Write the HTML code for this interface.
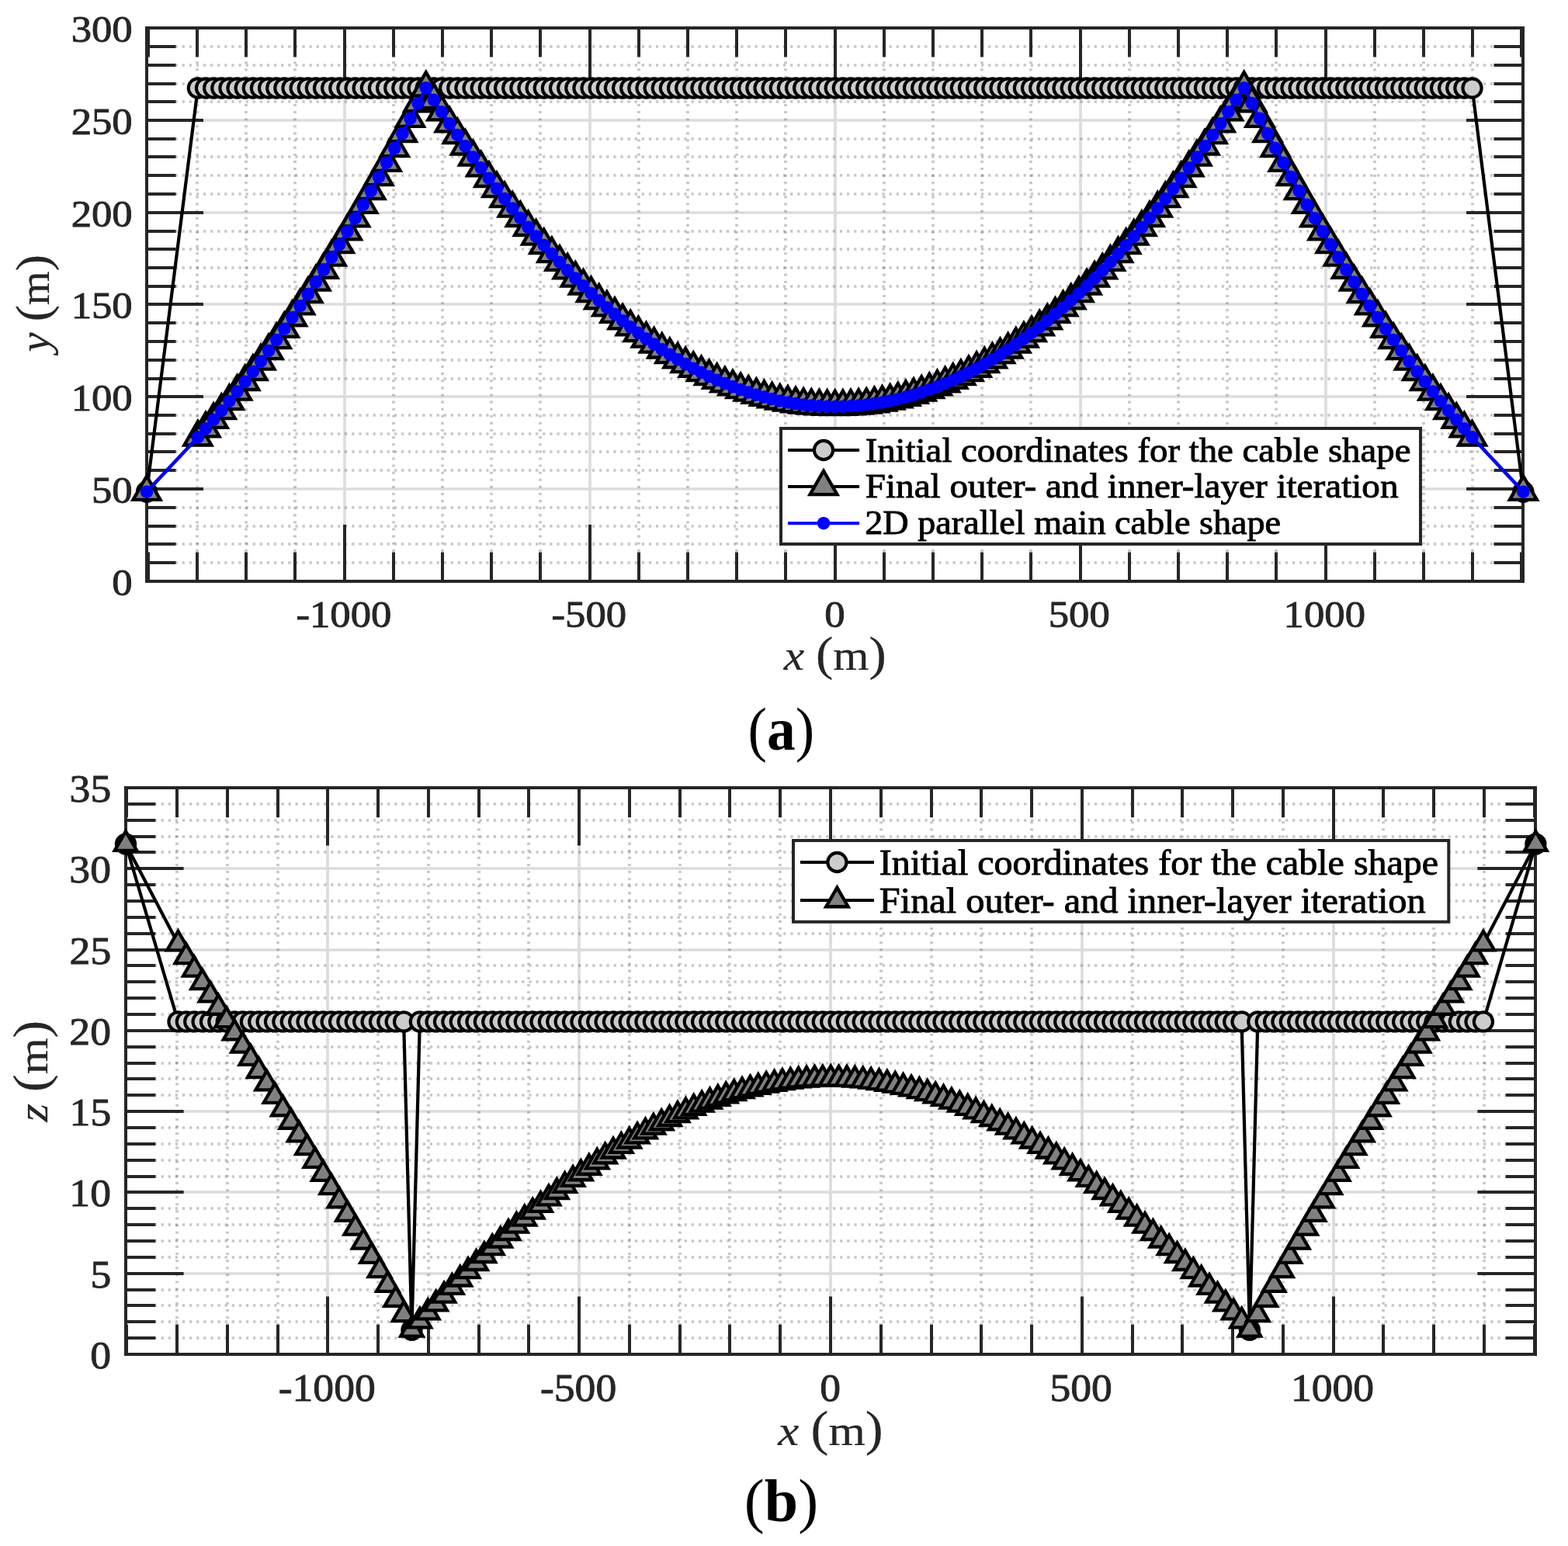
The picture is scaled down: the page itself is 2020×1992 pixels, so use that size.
<!DOCTYPE html>
<html lang="en"><head><meta charset="utf-8"><title>Cable shape</title>
<style>html,body{margin:0;padding:0;background:#fff}body{width:2020px;height:1992px;overflow:hidden}svg{display:block}text{font-family:'Liberation Serif','DejaVu Serif',serif}</style></head><body>
<svg xmlns="http://www.w3.org/2000/svg" width="2020" height="1992" viewBox="0 0 2020 1992">
<rect width="2020" height="1992" fill="#fff"/>
<defs>
<circle id="c" r="12.1" fill="#ccc" stroke="#000" stroke-width="4.1"/>
<circle id="d" r="8.3" fill="#00f"/>
<polygon id="ta" points="0,-20.21 17.5,10.1 -17.5,10.1" fill="#808080" stroke="#000" stroke-width="4.3"/>
<polygon id="tb" points="0,-16.45 14.25,8.23 -14.25,8.23" fill="#808080" stroke="#000" stroke-width="4.3"/>
<clipPath id="ca"><rect x="187" y="34" width="1777" height="717"/></clipPath>
<clipPath id="cb"><rect x="160" y="1013" width="1820" height="734"/></clipPath>
</defs>
<g id="axes-a">
<path d="M254 33.7V749M317 33.7V749M380 33.7V749M507 33.7V749M570 33.7V749M633 33.7V749M696 33.7V749M823 33.7V749M886 33.7V749M949 33.7V749M1012 33.7V749M1139 33.7V749M1202 33.7V749M1265 33.7V749M1328 33.7V749M1455 33.7V749M1518 33.7V749M1581 33.7V749M1644 33.7V749M1771 33.7V749M1834 33.7V749M1897 33.7V749" stroke="#262626" stroke-width="3.7" stroke-opacity="0.26" stroke-dasharray="3.1 6.01" fill="none"/>
<path d="M189 725H1962M189 701H1962M189 678H1962M189 654H1962M189 606H1962M189 582H1962M189 559H1962M189 535H1962M189 488H1962M189 464H1962M189 440H1962M189 416H1962M189 369H1962M189 345H1962M189 321H1962M189 298H1962M189 250H1962M189 226H1962M189 202H1962M189 179H1962M189 131H1962M189 108H1962M189 84H1962M189 60H1962" stroke="#262626" stroke-width="3.7" stroke-opacity="0.26" stroke-dasharray="3.3 5.81" fill="none"/>
<path d="M444 749V36M760 749V36M1076 749V36M1392 749V36M1708 749V36M189 630H1962M189 511H1962M189 392H1962M189 274H1962M189 155H1962" stroke="#262626" stroke-width="3.7" stroke-opacity="0.16" fill="none"/>
<path d="M191 749v-37.5M191 36v37.5M254 749v-37.5M254 36v37.5M317 749v-37.5M317 36v37.5M380 749v-37.5M380 36v37.5M507 749v-37.5M507 36v37.5M570 749v-37.5M570 36v37.5M633 749v-37.5M633 36v37.5M696 749v-37.5M696 36v37.5M823 749v-37.5M823 36v37.5M886 749v-37.5M886 36v37.5M949 749v-37.5M949 36v37.5M1012 749v-37.5M1012 36v37.5M1139 749v-37.5M1139 36v37.5M1202 749v-37.5M1202 36v37.5M1265 749v-37.5M1265 36v37.5M1328 749v-37.5M1328 36v37.5M1455 749v-37.5M1455 36v37.5M1518 749v-37.5M1518 36v37.5M1581 749v-37.5M1581 36v37.5M1644 749v-37.5M1644 36v37.5M1771 749v-37.5M1771 36v37.5M1834 749v-37.5M1834 36v37.5M1897 749v-37.5M1897 36v37.5M1960 749v-37.5M1960 36v37.5M444 749v-73M444 36v73M760 749v-73M760 36v73M1076 749v-73M1076 36v73M1392 749v-73M1392 36v73M1708 749v-73M1708 36v73M189 725h37.5M1962 725h-37.5M189 701h37.5M1962 701h-37.5M189 678h37.5M1962 678h-37.5M189 654h37.5M1962 654h-37.5M189 606h37.5M1962 606h-37.5M189 582h37.5M1962 582h-37.5M189 559h37.5M1962 559h-37.5M189 535h37.5M1962 535h-37.5M189 488h37.5M1962 488h-37.5M189 464h37.5M1962 464h-37.5M189 440h37.5M1962 440h-37.5M189 416h37.5M1962 416h-37.5M189 369h37.5M1962 369h-37.5M189 345h37.5M1962 345h-37.5M189 321h37.5M1962 321h-37.5M189 298h37.5M1962 298h-37.5M189 250h37.5M1962 250h-37.5M189 226h37.5M1962 226h-37.5M189 202h37.5M1962 202h-37.5M189 179h37.5M1962 179h-37.5M189 131h37.5M1962 131h-37.5M189 108h37.5M1962 108h-37.5M189 84h37.5M1962 84h-37.5M189 60h37.5M1962 60h-37.5M189 749h73M1962 749h-73M189 630h73M1962 630h-73M189 511h73M1962 511h-73M189 392h73M1962 392h-73M189 274h73M1962 274h-73M189 155h73M1962 155h-73M189 36h73M1962 36h-73" stroke="#262626" stroke-width="4" fill="none"/>
<rect x="189" y="36" width="1773" height="713" fill="none" stroke="#262626" stroke-width="4"/>
<path d="M189 633.73L254.87 113.48L265 113.48L275.14 113.48L285.27 113.48L295.4 113.48L305.54 113.48L315.67 113.48L325.81 113.48L335.94 113.48L346.07 113.48L356.21 113.48L366.34 113.48L376.47 113.48L386.61 113.48L396.74 113.48L406.87 113.48L417.01 113.48L427.14 113.48L437.28 113.48L447.41 113.48L457.54 113.48L467.68 113.48L477.81 113.48L487.94 113.48L498.08 113.48L508.21 113.48L518.35 113.48L528.48 113.48L538.61 113.48L548.75 113.48L558.88 113.48L569.01 113.48L579.15 113.48L589.28 113.48L599.42 113.48L609.55 113.48L619.68 113.48L629.82 113.48L639.95 113.48L650.08 113.48L660.22 113.48L670.35 113.48L680.49 113.48L690.62 113.48L700.75 113.48L710.89 113.48L721.02 113.48L731.15 113.48L741.29 113.48L751.42 113.48L761.55 113.48L771.69 113.48L781.82 113.48L791.96 113.48L802.09 113.48L812.22 113.48L822.36 113.48L832.49 113.48L842.62 113.48L852.76 113.48L862.89 113.48L873.03 113.48L883.16 113.48L893.29 113.48L903.43 113.48L913.56 113.48L923.69 113.48L933.83 113.48L943.96 113.48L954.1 113.48L964.23 113.48L974.36 113.48L984.5 113.48L994.63 113.48L1004.76 113.48L1014.9 113.48L1025.03 113.48L1035.17 113.48L1045.3 113.48L1055.43 113.48L1065.57 113.48L1075.7 113.48L1085.83 113.48L1095.97 113.48L1106.1 113.48L1116.23 113.48L1126.37 113.48L1136.5 113.48L1146.64 113.48L1156.77 113.48L1166.9 113.48L1177.04 113.48L1187.17 113.48L1197.3 113.48L1207.44 113.48L1217.57 113.48L1227.71 113.48L1237.84 113.48L1247.97 113.48L1258.11 113.48L1268.24 113.48L1278.37 113.48L1288.51 113.48L1298.64 113.48L1308.78 113.48L1318.91 113.48L1329.04 113.48L1339.18 113.48L1349.31 113.48L1359.44 113.48L1369.58 113.48L1379.71 113.48L1389.85 113.48L1399.98 113.48L1410.11 113.48L1420.25 113.48L1430.38 113.48L1440.51 113.48L1450.65 113.48L1460.78 113.48L1470.91 113.48L1481.05 113.48L1491.18 113.48L1501.32 113.48L1511.45 113.48L1521.58 113.48L1531.72 113.48L1541.85 113.48L1551.98 113.48L1562.12 113.48L1572.25 113.48L1582.39 113.48L1592.52 113.48L1602.65 113.48L1612.79 113.48L1622.92 113.48L1633.05 113.48L1643.19 113.48L1653.32 113.48L1663.46 113.48L1673.59 113.48L1683.72 113.48L1693.86 113.48L1703.99 113.48L1714.12 113.48L1724.26 113.48L1734.39 113.48L1744.53 113.48L1754.66 113.48L1764.79 113.48L1774.93 113.48L1785.06 113.48L1795.19 113.48L1805.33 113.48L1815.46 113.48L1825.59 113.48L1835.73 113.48L1845.86 113.48L1856 113.48L1866.13 113.48L1876.26 113.48L1886.4 113.48L1896.53 113.48L1962.4 633.73" fill="none" stroke="#000" stroke-width="4.2" stroke-linejoin="round" clip-path="url(#ca)"/>
<g><use href="#c" x="189" y="633.73"/><use href="#c" x="254.87" y="113.48"/><use href="#c" x="265" y="113.48"/><use href="#c" x="275.14" y="113.48"/><use href="#c" x="285.27" y="113.48"/><use href="#c" x="295.4" y="113.48"/><use href="#c" x="305.54" y="113.48"/><use href="#c" x="315.67" y="113.48"/><use href="#c" x="325.81" y="113.48"/><use href="#c" x="335.94" y="113.48"/><use href="#c" x="346.07" y="113.48"/><use href="#c" x="356.21" y="113.48"/><use href="#c" x="366.34" y="113.48"/><use href="#c" x="376.47" y="113.48"/><use href="#c" x="386.61" y="113.48"/><use href="#c" x="396.74" y="113.48"/><use href="#c" x="406.87" y="113.48"/><use href="#c" x="417.01" y="113.48"/><use href="#c" x="427.14" y="113.48"/><use href="#c" x="437.28" y="113.48"/><use href="#c" x="447.41" y="113.48"/><use href="#c" x="457.54" y="113.48"/><use href="#c" x="467.68" y="113.48"/><use href="#c" x="477.81" y="113.48"/><use href="#c" x="487.94" y="113.48"/><use href="#c" x="498.08" y="113.48"/><use href="#c" x="508.21" y="113.48"/><use href="#c" x="518.35" y="113.48"/><use href="#c" x="528.48" y="113.48"/><use href="#c" x="538.61" y="113.48"/><use href="#c" x="548.75" y="113.48"/><use href="#c" x="558.88" y="113.48"/><use href="#c" x="569.01" y="113.48"/><use href="#c" x="579.15" y="113.48"/><use href="#c" x="589.28" y="113.48"/><use href="#c" x="599.42" y="113.48"/><use href="#c" x="609.55" y="113.48"/><use href="#c" x="619.68" y="113.48"/><use href="#c" x="629.82" y="113.48"/><use href="#c" x="639.95" y="113.48"/><use href="#c" x="650.08" y="113.48"/><use href="#c" x="660.22" y="113.48"/><use href="#c" x="670.35" y="113.48"/><use href="#c" x="680.49" y="113.48"/><use href="#c" x="690.62" y="113.48"/><use href="#c" x="700.75" y="113.48"/><use href="#c" x="710.89" y="113.48"/><use href="#c" x="721.02" y="113.48"/><use href="#c" x="731.15" y="113.48"/><use href="#c" x="741.29" y="113.48"/><use href="#c" x="751.42" y="113.48"/><use href="#c" x="761.55" y="113.48"/><use href="#c" x="771.69" y="113.48"/><use href="#c" x="781.82" y="113.48"/><use href="#c" x="791.96" y="113.48"/><use href="#c" x="802.09" y="113.48"/><use href="#c" x="812.22" y="113.48"/><use href="#c" x="822.36" y="113.48"/><use href="#c" x="832.49" y="113.48"/><use href="#c" x="842.62" y="113.48"/><use href="#c" x="852.76" y="113.48"/><use href="#c" x="862.89" y="113.48"/><use href="#c" x="873.03" y="113.48"/><use href="#c" x="883.16" y="113.48"/><use href="#c" x="893.29" y="113.48"/><use href="#c" x="903.43" y="113.48"/><use href="#c" x="913.56" y="113.48"/><use href="#c" x="923.69" y="113.48"/><use href="#c" x="933.83" y="113.48"/><use href="#c" x="943.96" y="113.48"/><use href="#c" x="954.1" y="113.48"/><use href="#c" x="964.23" y="113.48"/><use href="#c" x="974.36" y="113.48"/><use href="#c" x="984.5" y="113.48"/><use href="#c" x="994.63" y="113.48"/><use href="#c" x="1004.76" y="113.48"/><use href="#c" x="1014.9" y="113.48"/><use href="#c" x="1025.03" y="113.48"/><use href="#c" x="1035.17" y="113.48"/><use href="#c" x="1045.3" y="113.48"/><use href="#c" x="1055.43" y="113.48"/><use href="#c" x="1065.57" y="113.48"/><use href="#c" x="1075.7" y="113.48"/><use href="#c" x="1085.83" y="113.48"/><use href="#c" x="1095.97" y="113.48"/><use href="#c" x="1106.1" y="113.48"/><use href="#c" x="1116.23" y="113.48"/><use href="#c" x="1126.37" y="113.48"/><use href="#c" x="1136.5" y="113.48"/><use href="#c" x="1146.64" y="113.48"/><use href="#c" x="1156.77" y="113.48"/><use href="#c" x="1166.9" y="113.48"/><use href="#c" x="1177.04" y="113.48"/><use href="#c" x="1187.17" y="113.48"/><use href="#c" x="1197.3" y="113.48"/><use href="#c" x="1207.44" y="113.48"/><use href="#c" x="1217.57" y="113.48"/><use href="#c" x="1227.71" y="113.48"/><use href="#c" x="1237.84" y="113.48"/><use href="#c" x="1247.97" y="113.48"/><use href="#c" x="1258.11" y="113.48"/><use href="#c" x="1268.24" y="113.48"/><use href="#c" x="1278.37" y="113.48"/><use href="#c" x="1288.51" y="113.48"/><use href="#c" x="1298.64" y="113.48"/><use href="#c" x="1308.78" y="113.48"/><use href="#c" x="1318.91" y="113.48"/><use href="#c" x="1329.04" y="113.48"/><use href="#c" x="1339.18" y="113.48"/><use href="#c" x="1349.31" y="113.48"/><use href="#c" x="1359.44" y="113.48"/><use href="#c" x="1369.58" y="113.48"/><use href="#c" x="1379.71" y="113.48"/><use href="#c" x="1389.85" y="113.48"/><use href="#c" x="1399.98" y="113.48"/><use href="#c" x="1410.11" y="113.48"/><use href="#c" x="1420.25" y="113.48"/><use href="#c" x="1430.38" y="113.48"/><use href="#c" x="1440.51" y="113.48"/><use href="#c" x="1450.65" y="113.48"/><use href="#c" x="1460.78" y="113.48"/><use href="#c" x="1470.91" y="113.48"/><use href="#c" x="1481.05" y="113.48"/><use href="#c" x="1491.18" y="113.48"/><use href="#c" x="1501.32" y="113.48"/><use href="#c" x="1511.45" y="113.48"/><use href="#c" x="1521.58" y="113.48"/><use href="#c" x="1531.72" y="113.48"/><use href="#c" x="1541.85" y="113.48"/><use href="#c" x="1551.98" y="113.48"/><use href="#c" x="1562.12" y="113.48"/><use href="#c" x="1572.25" y="113.48"/><use href="#c" x="1582.39" y="113.48"/><use href="#c" x="1592.52" y="113.48"/><use href="#c" x="1602.65" y="113.48"/><use href="#c" x="1612.79" y="113.48"/><use href="#c" x="1622.92" y="113.48"/><use href="#c" x="1633.05" y="113.48"/><use href="#c" x="1643.19" y="113.48"/><use href="#c" x="1653.32" y="113.48"/><use href="#c" x="1663.46" y="113.48"/><use href="#c" x="1673.59" y="113.48"/><use href="#c" x="1683.72" y="113.48"/><use href="#c" x="1693.86" y="113.48"/><use href="#c" x="1703.99" y="113.48"/><use href="#c" x="1714.12" y="113.48"/><use href="#c" x="1724.26" y="113.48"/><use href="#c" x="1734.39" y="113.48"/><use href="#c" x="1744.53" y="113.48"/><use href="#c" x="1754.66" y="113.48"/><use href="#c" x="1764.79" y="113.48"/><use href="#c" x="1774.93" y="113.48"/><use href="#c" x="1785.06" y="113.48"/><use href="#c" x="1795.19" y="113.48"/><use href="#c" x="1805.33" y="113.48"/><use href="#c" x="1815.46" y="113.48"/><use href="#c" x="1825.59" y="113.48"/><use href="#c" x="1835.73" y="113.48"/><use href="#c" x="1845.86" y="113.48"/><use href="#c" x="1856" y="113.48"/><use href="#c" x="1866.13" y="113.48"/><use href="#c" x="1876.26" y="113.48"/><use href="#c" x="1886.4" y="113.48"/><use href="#c" x="1896.53" y="113.48"/><use href="#c" x="1962.4" y="633.73"/></g>
<path d="M189 633.73L254.87 563.38L265 552.25L275.14 540.81L285.27 529.06L295.4 516.99L305.54 504.61L315.67 491.91L325.81 478.9L335.94 465.57L346.07 451.93L356.21 437.98L366.34 423.71L376.47 409.13L386.61 394.24L396.74 379.03L406.87 363.51L417.01 347.67L427.14 331.52L437.28 315.06L447.41 298.28L457.54 281.19L467.68 263.79L477.81 246.07L487.94 228.03L498.08 209.69L508.21 191.02L518.35 172.05L528.48 152.76L538.61 133.16L548.75 113.24L558.88 128.89L569.01 144.23L579.15 159.26L589.28 173.99L599.42 188.42L609.55 202.55L619.68 216.37L629.82 229.89L639.95 243.1L650.08 256.01L660.22 268.62L670.35 280.92L680.49 292.92L690.62 304.61L700.75 316L710.89 327.09L721.02 337.87L731.15 348.35L741.29 358.53L751.42 368.4L761.55 377.97L771.69 387.24L781.82 396.2L791.96 404.85L802.09 413.21L812.22 421.26L822.36 429L832.49 436.45L842.62 443.58L852.76 450.42L862.89 456.95L873.03 463.18L883.16 469.1L893.29 474.72L903.43 480.04L913.56 485.05L923.69 489.76L933.83 494.16L943.96 498.26L954.1 502.06L964.23 505.55L974.36 508.74L984.5 511.63L994.63 514.21L1004.76 516.49L1014.9 518.46L1025.03 520.13L1035.17 521.5L1045.3 522.56L1055.43 523.32L1065.57 523.78L1075.7 523.93L1085.83 523.78L1095.97 523.32L1106.1 522.56L1116.23 521.5L1126.37 520.13L1136.5 518.46L1146.64 516.49L1156.77 514.21L1166.9 511.63L1177.04 508.74L1187.17 505.55L1197.3 502.06L1207.44 498.26L1217.57 494.16L1227.71 489.76L1237.84 485.05L1247.97 480.04L1258.11 474.72L1268.24 469.1L1278.37 463.18L1288.51 456.95L1298.64 450.42L1308.78 443.58L1318.91 436.45L1329.04 429L1339.18 421.26L1349.31 413.21L1359.44 404.85L1369.58 396.2L1379.71 387.24L1389.85 377.97L1399.98 368.4L1410.11 358.53L1420.25 348.35L1430.38 337.87L1440.51 327.09L1450.65 316L1460.78 304.61L1470.91 292.92L1481.05 280.92L1491.18 268.62L1501.32 256.01L1511.45 243.1L1521.58 229.89L1531.72 216.37L1541.85 202.55L1551.98 188.42L1562.12 173.99L1572.25 159.26L1582.39 144.23L1592.52 128.89L1602.65 113.24L1612.79 133.16L1622.92 152.76L1633.05 172.05L1643.19 191.02L1653.32 209.69L1663.46 228.03L1673.59 246.07L1683.72 263.79L1693.86 281.19L1703.99 298.28L1714.12 315.06L1724.26 331.52L1734.39 347.67L1744.53 363.51L1754.66 379.03L1764.79 394.24L1774.93 409.13L1785.06 423.71L1795.19 437.98L1805.33 451.93L1815.46 465.57L1825.59 478.9L1835.73 491.91L1845.86 504.61L1856 516.99L1866.13 529.06L1876.26 540.81L1886.4 552.25L1896.53 563.38L1962.4 633.73" fill="none" stroke="#000" stroke-width="4.2" stroke-linejoin="round" clip-path="url(#ca)"/>
<g><use href="#ta" x="189" y="633.73"/><use href="#ta" x="254.87" y="563.38"/><use href="#ta" x="265" y="552.25"/><use href="#ta" x="275.14" y="540.81"/><use href="#ta" x="285.27" y="529.06"/><use href="#ta" x="295.4" y="516.99"/><use href="#ta" x="305.54" y="504.61"/><use href="#ta" x="315.67" y="491.91"/><use href="#ta" x="325.81" y="478.9"/><use href="#ta" x="335.94" y="465.57"/><use href="#ta" x="346.07" y="451.93"/><use href="#ta" x="356.21" y="437.98"/><use href="#ta" x="366.34" y="423.71"/><use href="#ta" x="376.47" y="409.13"/><use href="#ta" x="386.61" y="394.24"/><use href="#ta" x="396.74" y="379.03"/><use href="#ta" x="406.87" y="363.51"/><use href="#ta" x="417.01" y="347.67"/><use href="#ta" x="427.14" y="331.52"/><use href="#ta" x="437.28" y="315.06"/><use href="#ta" x="447.41" y="298.28"/><use href="#ta" x="457.54" y="281.19"/><use href="#ta" x="467.68" y="263.79"/><use href="#ta" x="477.81" y="246.07"/><use href="#ta" x="487.94" y="228.03"/><use href="#ta" x="498.08" y="209.69"/><use href="#ta" x="508.21" y="191.02"/><use href="#ta" x="518.35" y="172.05"/><use href="#ta" x="528.48" y="152.76"/><use href="#ta" x="538.61" y="133.16"/><use href="#ta" x="548.75" y="113.24"/><use href="#ta" x="558.88" y="128.89"/><use href="#ta" x="569.01" y="144.23"/><use href="#ta" x="579.15" y="159.26"/><use href="#ta" x="589.28" y="173.99"/><use href="#ta" x="599.42" y="188.42"/><use href="#ta" x="609.55" y="202.55"/><use href="#ta" x="619.68" y="216.37"/><use href="#ta" x="629.82" y="229.89"/><use href="#ta" x="639.95" y="243.1"/><use href="#ta" x="650.08" y="256.01"/><use href="#ta" x="660.22" y="268.62"/><use href="#ta" x="670.35" y="280.92"/><use href="#ta" x="680.49" y="292.92"/><use href="#ta" x="690.62" y="304.61"/><use href="#ta" x="700.75" y="316"/><use href="#ta" x="710.89" y="327.09"/><use href="#ta" x="721.02" y="337.87"/><use href="#ta" x="731.15" y="348.35"/><use href="#ta" x="741.29" y="358.53"/><use href="#ta" x="751.42" y="368.4"/><use href="#ta" x="761.55" y="377.97"/><use href="#ta" x="771.69" y="387.24"/><use href="#ta" x="781.82" y="396.2"/><use href="#ta" x="791.96" y="404.85"/><use href="#ta" x="802.09" y="413.21"/><use href="#ta" x="812.22" y="421.26"/><use href="#ta" x="822.36" y="429"/><use href="#ta" x="832.49" y="436.45"/><use href="#ta" x="842.62" y="443.58"/><use href="#ta" x="852.76" y="450.42"/><use href="#ta" x="862.89" y="456.95"/><use href="#ta" x="873.03" y="463.18"/><use href="#ta" x="883.16" y="469.1"/><use href="#ta" x="893.29" y="474.72"/><use href="#ta" x="903.43" y="480.04"/><use href="#ta" x="913.56" y="485.05"/><use href="#ta" x="923.69" y="489.76"/><use href="#ta" x="933.83" y="494.16"/><use href="#ta" x="943.96" y="498.26"/><use href="#ta" x="954.1" y="502.06"/><use href="#ta" x="964.23" y="505.55"/><use href="#ta" x="974.36" y="508.74"/><use href="#ta" x="984.5" y="511.63"/><use href="#ta" x="994.63" y="514.21"/><use href="#ta" x="1004.76" y="516.49"/><use href="#ta" x="1014.9" y="518.46"/><use href="#ta" x="1025.03" y="520.13"/><use href="#ta" x="1035.17" y="521.5"/><use href="#ta" x="1045.3" y="522.56"/><use href="#ta" x="1055.43" y="523.32"/><use href="#ta" x="1065.57" y="523.78"/><use href="#ta" x="1075.7" y="523.93"/><use href="#ta" x="1085.83" y="523.78"/><use href="#ta" x="1095.97" y="523.32"/><use href="#ta" x="1106.1" y="522.56"/><use href="#ta" x="1116.23" y="521.5"/><use href="#ta" x="1126.37" y="520.13"/><use href="#ta" x="1136.5" y="518.46"/><use href="#ta" x="1146.64" y="516.49"/><use href="#ta" x="1156.77" y="514.21"/><use href="#ta" x="1166.9" y="511.63"/><use href="#ta" x="1177.04" y="508.74"/><use href="#ta" x="1187.17" y="505.55"/><use href="#ta" x="1197.3" y="502.06"/><use href="#ta" x="1207.44" y="498.26"/><use href="#ta" x="1217.57" y="494.16"/><use href="#ta" x="1227.71" y="489.76"/><use href="#ta" x="1237.84" y="485.05"/><use href="#ta" x="1247.97" y="480.04"/><use href="#ta" x="1258.11" y="474.72"/><use href="#ta" x="1268.24" y="469.1"/><use href="#ta" x="1278.37" y="463.18"/><use href="#ta" x="1288.51" y="456.95"/><use href="#ta" x="1298.64" y="450.42"/><use href="#ta" x="1308.78" y="443.58"/><use href="#ta" x="1318.91" y="436.45"/><use href="#ta" x="1329.04" y="429"/><use href="#ta" x="1339.18" y="421.26"/><use href="#ta" x="1349.31" y="413.21"/><use href="#ta" x="1359.44" y="404.85"/><use href="#ta" x="1369.58" y="396.2"/><use href="#ta" x="1379.71" y="387.24"/><use href="#ta" x="1389.85" y="377.97"/><use href="#ta" x="1399.98" y="368.4"/><use href="#ta" x="1410.11" y="358.53"/><use href="#ta" x="1420.25" y="348.35"/><use href="#ta" x="1430.38" y="337.87"/><use href="#ta" x="1440.51" y="327.09"/><use href="#ta" x="1450.65" y="316"/><use href="#ta" x="1460.78" y="304.61"/><use href="#ta" x="1470.91" y="292.92"/><use href="#ta" x="1481.05" y="280.92"/><use href="#ta" x="1491.18" y="268.62"/><use href="#ta" x="1501.32" y="256.01"/><use href="#ta" x="1511.45" y="243.1"/><use href="#ta" x="1521.58" y="229.89"/><use href="#ta" x="1531.72" y="216.37"/><use href="#ta" x="1541.85" y="202.55"/><use href="#ta" x="1551.98" y="188.42"/><use href="#ta" x="1562.12" y="173.99"/><use href="#ta" x="1572.25" y="159.26"/><use href="#ta" x="1582.39" y="144.23"/><use href="#ta" x="1592.52" y="128.89"/><use href="#ta" x="1602.65" y="113.24"/><use href="#ta" x="1612.79" y="133.16"/><use href="#ta" x="1622.92" y="152.76"/><use href="#ta" x="1633.05" y="172.05"/><use href="#ta" x="1643.19" y="191.02"/><use href="#ta" x="1653.32" y="209.69"/><use href="#ta" x="1663.46" y="228.03"/><use href="#ta" x="1673.59" y="246.07"/><use href="#ta" x="1683.72" y="263.79"/><use href="#ta" x="1693.86" y="281.19"/><use href="#ta" x="1703.99" y="298.28"/><use href="#ta" x="1714.12" y="315.06"/><use href="#ta" x="1724.26" y="331.52"/><use href="#ta" x="1734.39" y="347.67"/><use href="#ta" x="1744.53" y="363.51"/><use href="#ta" x="1754.66" y="379.03"/><use href="#ta" x="1764.79" y="394.24"/><use href="#ta" x="1774.93" y="409.13"/><use href="#ta" x="1785.06" y="423.71"/><use href="#ta" x="1795.19" y="437.98"/><use href="#ta" x="1805.33" y="451.93"/><use href="#ta" x="1815.46" y="465.57"/><use href="#ta" x="1825.59" y="478.9"/><use href="#ta" x="1835.73" y="491.91"/><use href="#ta" x="1845.86" y="504.61"/><use href="#ta" x="1856" y="516.99"/><use href="#ta" x="1866.13" y="529.06"/><use href="#ta" x="1876.26" y="540.81"/><use href="#ta" x="1886.4" y="552.25"/><use href="#ta" x="1896.53" y="563.38"/><use href="#ta" x="1962.4" y="633.73"/></g>
<path d="M189 633.73L254.87 563.38L265 552.25L275.14 540.81L285.27 529.06L295.4 516.99L305.54 504.61L315.67 491.91L325.81 478.9L335.94 465.57L346.07 451.93L356.21 437.98L366.34 423.71L376.47 409.13L386.61 394.24L396.74 379.03L406.87 363.51L417.01 347.67L427.14 331.52L437.28 315.06L447.41 298.28L457.54 281.19L467.68 263.79L477.81 246.07L487.94 228.03L498.08 209.69L508.21 191.02L518.35 172.05L528.48 152.76L538.61 133.16L548.75 113.24L558.88 128.89L569.01 144.23L579.15 159.26L589.28 173.99L599.42 188.42L609.55 202.55L619.68 216.37L629.82 229.89L639.95 243.1L650.08 256.01L660.22 268.62L670.35 280.92L680.49 292.92L690.62 304.61L700.75 316L710.89 327.09L721.02 337.87L731.15 348.35L741.29 358.53L751.42 368.4L761.55 377.97L771.69 387.24L781.82 396.2L791.96 404.85L802.09 413.21L812.22 421.26L822.36 429L832.49 436.45L842.62 443.58L852.76 450.42L862.89 456.95L873.03 463.18L883.16 469.1L893.29 474.72L903.43 480.04L913.56 485.05L923.69 489.76L933.83 494.16L943.96 498.26L954.1 502.06L964.23 505.55L974.36 508.74L984.5 511.63L994.63 514.21L1004.76 516.49L1014.9 518.46L1025.03 520.13L1035.17 521.5L1045.3 522.56L1055.43 523.32L1065.57 523.78L1075.7 523.93L1085.83 523.78L1095.97 523.32L1106.1 522.56L1116.23 521.5L1126.37 520.13L1136.5 518.46L1146.64 516.49L1156.77 514.21L1166.9 511.63L1177.04 508.74L1187.17 505.55L1197.3 502.06L1207.44 498.26L1217.57 494.16L1227.71 489.76L1237.84 485.05L1247.97 480.04L1258.11 474.72L1268.24 469.1L1278.37 463.18L1288.51 456.95L1298.64 450.42L1308.78 443.58L1318.91 436.45L1329.04 429L1339.18 421.26L1349.31 413.21L1359.44 404.85L1369.58 396.2L1379.71 387.24L1389.85 377.97L1399.98 368.4L1410.11 358.53L1420.25 348.35L1430.38 337.87L1440.51 327.09L1450.65 316L1460.78 304.61L1470.91 292.92L1481.05 280.92L1491.18 268.62L1501.32 256.01L1511.45 243.1L1521.58 229.89L1531.72 216.37L1541.85 202.55L1551.98 188.42L1562.12 173.99L1572.25 159.26L1582.39 144.23L1592.52 128.89L1602.65 113.24L1612.79 133.16L1622.92 152.76L1633.05 172.05L1643.19 191.02L1653.32 209.69L1663.46 228.03L1673.59 246.07L1683.72 263.79L1693.86 281.19L1703.99 298.28L1714.12 315.06L1724.26 331.52L1734.39 347.67L1744.53 363.51L1754.66 379.03L1764.79 394.24L1774.93 409.13L1785.06 423.71L1795.19 437.98L1805.33 451.93L1815.46 465.57L1825.59 478.9L1835.73 491.91L1845.86 504.61L1856 516.99L1866.13 529.06L1876.26 540.81L1886.4 552.25L1896.53 563.38L1962.4 633.73" fill="none" stroke="#00f" stroke-width="4.2" stroke-linejoin="round" clip-path="url(#ca)"/>
<g><use href="#d" x="189" y="633.73"/><use href="#d" x="254.87" y="563.38"/><use href="#d" x="265" y="552.25"/><use href="#d" x="275.14" y="540.81"/><use href="#d" x="285.27" y="529.06"/><use href="#d" x="295.4" y="516.99"/><use href="#d" x="305.54" y="504.61"/><use href="#d" x="315.67" y="491.91"/><use href="#d" x="325.81" y="478.9"/><use href="#d" x="335.94" y="465.57"/><use href="#d" x="346.07" y="451.93"/><use href="#d" x="356.21" y="437.98"/><use href="#d" x="366.34" y="423.71"/><use href="#d" x="376.47" y="409.13"/><use href="#d" x="386.61" y="394.24"/><use href="#d" x="396.74" y="379.03"/><use href="#d" x="406.87" y="363.51"/><use href="#d" x="417.01" y="347.67"/><use href="#d" x="427.14" y="331.52"/><use href="#d" x="437.28" y="315.06"/><use href="#d" x="447.41" y="298.28"/><use href="#d" x="457.54" y="281.19"/><use href="#d" x="467.68" y="263.79"/><use href="#d" x="477.81" y="246.07"/><use href="#d" x="487.94" y="228.03"/><use href="#d" x="498.08" y="209.69"/><use href="#d" x="508.21" y="191.02"/><use href="#d" x="518.35" y="172.05"/><use href="#d" x="528.48" y="152.76"/><use href="#d" x="538.61" y="133.16"/><use href="#d" x="548.75" y="113.24"/><use href="#d" x="558.88" y="128.89"/><use href="#d" x="569.01" y="144.23"/><use href="#d" x="579.15" y="159.26"/><use href="#d" x="589.28" y="173.99"/><use href="#d" x="599.42" y="188.42"/><use href="#d" x="609.55" y="202.55"/><use href="#d" x="619.68" y="216.37"/><use href="#d" x="629.82" y="229.89"/><use href="#d" x="639.95" y="243.1"/><use href="#d" x="650.08" y="256.01"/><use href="#d" x="660.22" y="268.62"/><use href="#d" x="670.35" y="280.92"/><use href="#d" x="680.49" y="292.92"/><use href="#d" x="690.62" y="304.61"/><use href="#d" x="700.75" y="316"/><use href="#d" x="710.89" y="327.09"/><use href="#d" x="721.02" y="337.87"/><use href="#d" x="731.15" y="348.35"/><use href="#d" x="741.29" y="358.53"/><use href="#d" x="751.42" y="368.4"/><use href="#d" x="761.55" y="377.97"/><use href="#d" x="771.69" y="387.24"/><use href="#d" x="781.82" y="396.2"/><use href="#d" x="791.96" y="404.85"/><use href="#d" x="802.09" y="413.21"/><use href="#d" x="812.22" y="421.26"/><use href="#d" x="822.36" y="429"/><use href="#d" x="832.49" y="436.45"/><use href="#d" x="842.62" y="443.58"/><use href="#d" x="852.76" y="450.42"/><use href="#d" x="862.89" y="456.95"/><use href="#d" x="873.03" y="463.18"/><use href="#d" x="883.16" y="469.1"/><use href="#d" x="893.29" y="474.72"/><use href="#d" x="903.43" y="480.04"/><use href="#d" x="913.56" y="485.05"/><use href="#d" x="923.69" y="489.76"/><use href="#d" x="933.83" y="494.16"/><use href="#d" x="943.96" y="498.26"/><use href="#d" x="954.1" y="502.06"/><use href="#d" x="964.23" y="505.55"/><use href="#d" x="974.36" y="508.74"/><use href="#d" x="984.5" y="511.63"/><use href="#d" x="994.63" y="514.21"/><use href="#d" x="1004.76" y="516.49"/><use href="#d" x="1014.9" y="518.46"/><use href="#d" x="1025.03" y="520.13"/><use href="#d" x="1035.17" y="521.5"/><use href="#d" x="1045.3" y="522.56"/><use href="#d" x="1055.43" y="523.32"/><use href="#d" x="1065.57" y="523.78"/><use href="#d" x="1075.7" y="523.93"/><use href="#d" x="1085.83" y="523.78"/><use href="#d" x="1095.97" y="523.32"/><use href="#d" x="1106.1" y="522.56"/><use href="#d" x="1116.23" y="521.5"/><use href="#d" x="1126.37" y="520.13"/><use href="#d" x="1136.5" y="518.46"/><use href="#d" x="1146.64" y="516.49"/><use href="#d" x="1156.77" y="514.21"/><use href="#d" x="1166.9" y="511.63"/><use href="#d" x="1177.04" y="508.74"/><use href="#d" x="1187.17" y="505.55"/><use href="#d" x="1197.3" y="502.06"/><use href="#d" x="1207.44" y="498.26"/><use href="#d" x="1217.57" y="494.16"/><use href="#d" x="1227.71" y="489.76"/><use href="#d" x="1237.84" y="485.05"/><use href="#d" x="1247.97" y="480.04"/><use href="#d" x="1258.11" y="474.72"/><use href="#d" x="1268.24" y="469.1"/><use href="#d" x="1278.37" y="463.18"/><use href="#d" x="1288.51" y="456.95"/><use href="#d" x="1298.64" y="450.42"/><use href="#d" x="1308.78" y="443.58"/><use href="#d" x="1318.91" y="436.45"/><use href="#d" x="1329.04" y="429"/><use href="#d" x="1339.18" y="421.26"/><use href="#d" x="1349.31" y="413.21"/><use href="#d" x="1359.44" y="404.85"/><use href="#d" x="1369.58" y="396.2"/><use href="#d" x="1379.71" y="387.24"/><use href="#d" x="1389.85" y="377.97"/><use href="#d" x="1399.98" y="368.4"/><use href="#d" x="1410.11" y="358.53"/><use href="#d" x="1420.25" y="348.35"/><use href="#d" x="1430.38" y="337.87"/><use href="#d" x="1440.51" y="327.09"/><use href="#d" x="1450.65" y="316"/><use href="#d" x="1460.78" y="304.61"/><use href="#d" x="1470.91" y="292.92"/><use href="#d" x="1481.05" y="280.92"/><use href="#d" x="1491.18" y="268.62"/><use href="#d" x="1501.32" y="256.01"/><use href="#d" x="1511.45" y="243.1"/><use href="#d" x="1521.58" y="229.89"/><use href="#d" x="1531.72" y="216.37"/><use href="#d" x="1541.85" y="202.55"/><use href="#d" x="1551.98" y="188.42"/><use href="#d" x="1562.12" y="173.99"/><use href="#d" x="1572.25" y="159.26"/><use href="#d" x="1582.39" y="144.23"/><use href="#d" x="1592.52" y="128.89"/><use href="#d" x="1602.65" y="113.24"/><use href="#d" x="1612.79" y="133.16"/><use href="#d" x="1622.92" y="152.76"/><use href="#d" x="1633.05" y="172.05"/><use href="#d" x="1643.19" y="191.02"/><use href="#d" x="1653.32" y="209.69"/><use href="#d" x="1663.46" y="228.03"/><use href="#d" x="1673.59" y="246.07"/><use href="#d" x="1683.72" y="263.79"/><use href="#d" x="1693.86" y="281.19"/><use href="#d" x="1703.99" y="298.28"/><use href="#d" x="1714.12" y="315.06"/><use href="#d" x="1724.26" y="331.52"/><use href="#d" x="1734.39" y="347.67"/><use href="#d" x="1744.53" y="363.51"/><use href="#d" x="1754.66" y="379.03"/><use href="#d" x="1764.79" y="394.24"/><use href="#d" x="1774.93" y="409.13"/><use href="#d" x="1785.06" y="423.71"/><use href="#d" x="1795.19" y="437.98"/><use href="#d" x="1805.33" y="451.93"/><use href="#d" x="1815.46" y="465.57"/><use href="#d" x="1825.59" y="478.9"/><use href="#d" x="1835.73" y="491.91"/><use href="#d" x="1845.86" y="504.61"/><use href="#d" x="1856" y="516.99"/><use href="#d" x="1866.13" y="529.06"/><use href="#d" x="1876.26" y="540.81"/><use href="#d" x="1886.4" y="552.25"/><use href="#d" x="1896.53" y="563.38"/><use href="#d" x="1962.4" y="633.73"/></g>
<text transform="translate(144.37 766.65) scale(1.0791 1)" font-size="48.87" fill="#262626" stroke="#262626" stroke-width="0.9" >0</text>
<text transform="translate(118.01 647.9) scale(1.0791 1)" font-size="48.87" fill="#262626" stroke="#262626" stroke-width="0.9" >50</text>
<text transform="translate(91.64 529.15) scale(1.0791 1)" font-size="48.87" fill="#262626" stroke="#262626" stroke-width="0.9" >100</text>
<text transform="translate(91.64 410.4) scale(1.0791 1)" font-size="48.87" fill="#262626" stroke="#262626" stroke-width="0.9" >150</text>
<text transform="translate(91.64 291.65) scale(1.0791 1)" font-size="48.87" fill="#262626" stroke="#262626" stroke-width="0.9" >200</text>
<text transform="translate(91.64 172.9) scale(1.0791 1)" font-size="48.87" fill="#262626" stroke="#262626" stroke-width="0.9" >250</text>
<text transform="translate(91.64 54.15) scale(1.0791 1)" font-size="48.87" fill="#262626" stroke="#262626" stroke-width="0.9" >300</text>
<text transform="translate(381.44 807.7) scale(1.0791 1)" font-size="48.87" fill="#262626" stroke="#262626" stroke-width="0.9" >-1000</text>
<text transform="translate(710.53 807.7) scale(1.0791 1)" font-size="48.87" fill="#262626" stroke="#262626" stroke-width="0.9" >-500</text>
<text transform="translate(1062.37 807.7) scale(1.0791 1)" font-size="48.87" fill="#262626" stroke="#262626" stroke-width="0.9" >0</text>
<text transform="translate(1350.72 807.7) scale(1.0791 1)" font-size="48.87" fill="#262626" stroke="#262626" stroke-width="0.9" >500</text>
<text transform="translate(1653.56 807.7) scale(1.0791 1)" font-size="48.87" fill="#262626" stroke="#262626" stroke-width="0.9" >1000</text>
<text transform="translate(1009.72 863.1) scale(1.1000 1)" font-size="54" fill="#262626" stroke="#262626" stroke-width="0.2" ><tspan font-style="italic">x</tspan> <tspan font-size="60.91">(</tspan>m<tspan font-size="60.91">)</tspan></text>
<text transform="translate(62.9 453.57) rotate(-90) scale(1.0462 1)" font-size="54" fill="#262626" stroke="#262626" stroke-width="0.2" ><tspan font-style="italic">y</tspan> <tspan font-size="60.91">(</tspan>m<tspan font-size="60.91">)</tspan></text>
<rect x="1006" y="552" width="824" height="149" fill="#fff" stroke="#262626" stroke-width="4"/>
<path d="M1015 580H1107.1" stroke="#000" stroke-width="4" fill="none"/>
<use href="#c" x="1061" y="580"/>
<path d="M1015 627H1107.1" stroke="#000" stroke-width="4" fill="none"/>
<use href="#ta" x="1061" y="627"/>
<path d="M1015 674.2H1107.1" stroke="#00f" stroke-width="4" fill="none"/>
<use href="#d" x="1061" y="674.2"/>
<text transform="translate(1114.65 594.7) scale(1.0731 1)" font-size="43.6" fill="#000" stroke="#000" stroke-width="0.9" >Initial coordinates for the cable shape</text>
<text transform="translate(1114.79 641.3) scale(1.0815 1)" font-size="43.6" fill="#000" stroke="#000" stroke-width="0.9" >Final outer- and inner-layer iteration</text>
<text transform="translate(1114.29 687.9) scale(1.0592 1)" font-size="43.6" fill="#000" stroke="#000" stroke-width="0.9" >2D parallel main cable shape</text>
</g>
<text transform="translate(963.55 966.2) scale(0.9473 1)" font-size="77.5" fill="#000" >(<tspan font-weight="bold">a</tspan>)</text>
<g id="axes-b">
<path d="M228 1012.7V1745M293 1012.7V1745M358 1012.7V1745M487 1012.7V1745M552 1012.7V1745M617 1012.7V1745M681 1012.7V1745M811 1012.7V1745M876 1012.7V1745M940 1012.7V1745M1005 1012.7V1745M1135 1012.7V1745M1200 1012.7V1745M1264 1012.7V1745M1329 1012.7V1745M1459 1012.7V1745M1523 1012.7V1745M1588 1012.7V1745M1653 1012.7V1745M1782 1012.7V1745M1847 1012.7V1745M1912 1012.7V1745" stroke="#262626" stroke-width="3.7" stroke-opacity="0.26" stroke-dasharray="3.1 6.01" fill="none"/>
<path d="M162 1724H1978M162 1703H1978M162 1682H1978M162 1662H1978M162 1620H1978M162 1599H1978M162 1578H1978M162 1557H1978M162 1516H1978M162 1495H1978M162 1474H1978M162 1453H1978M162 1411H1978M162 1390H1978M162 1370H1978M162 1349H1978M162 1307H1978M162 1286H1978M162 1265H1978M162 1244H1978M162 1203H1978M162 1182H1978M162 1161H1978M162 1140H1978M162 1098H1978M162 1078H1978M162 1057H1978M162 1036H1978" stroke="#262626" stroke-width="3.7" stroke-opacity="0.26" stroke-dasharray="3.3 5.81" fill="none"/>
<path d="M422 1745V1015M746 1745V1015M1070 1745V1015M1394 1745V1015M1718 1745V1015M162 1641H1978M162 1536H1978M162 1432H1978M162 1328H1978M162 1224H1978M162 1119H1978" stroke="#262626" stroke-width="3.7" stroke-opacity="0.16" fill="none"/>
<path d="M163 1745v-38.3M163 1015v38.3M228 1745v-38.3M228 1015v38.3M293 1745v-38.3M293 1015v38.3M358 1745v-38.3M358 1015v38.3M487 1745v-38.3M487 1015v38.3M552 1745v-38.3M552 1015v38.3M617 1745v-38.3M617 1015v38.3M681 1745v-38.3M681 1015v38.3M811 1745v-38.3M811 1015v38.3M876 1745v-38.3M876 1015v38.3M940 1745v-38.3M940 1015v38.3M1005 1745v-38.3M1005 1015v38.3M1135 1745v-38.3M1135 1015v38.3M1200 1745v-38.3M1200 1015v38.3M1264 1745v-38.3M1264 1015v38.3M1329 1745v-38.3M1329 1015v38.3M1459 1745v-38.3M1459 1015v38.3M1523 1745v-38.3M1523 1015v38.3M1588 1745v-38.3M1588 1015v38.3M1653 1745v-38.3M1653 1015v38.3M1782 1745v-38.3M1782 1015v38.3M1847 1745v-38.3M1847 1015v38.3M1912 1745v-38.3M1912 1015v38.3M1977 1745v-38.3M1977 1015v38.3M422 1745v-74.6M422 1015v74.6M746 1745v-74.6M746 1015v74.6M1070 1745v-74.6M1070 1015v74.6M1394 1745v-74.6M1394 1015v74.6M1718 1745v-74.6M1718 1015v74.6M162 1724h38.3M1978 1724h-38.3M162 1703h38.3M1978 1703h-38.3M162 1682h38.3M1978 1682h-38.3M162 1662h38.3M1978 1662h-38.3M162 1620h38.3M1978 1620h-38.3M162 1599h38.3M1978 1599h-38.3M162 1578h38.3M1978 1578h-38.3M162 1557h38.3M1978 1557h-38.3M162 1516h38.3M1978 1516h-38.3M162 1495h38.3M1978 1495h-38.3M162 1474h38.3M1978 1474h-38.3M162 1453h38.3M1978 1453h-38.3M162 1411h38.3M1978 1411h-38.3M162 1390h38.3M1978 1390h-38.3M162 1370h38.3M1978 1370h-38.3M162 1349h38.3M1978 1349h-38.3M162 1307h38.3M1978 1307h-38.3M162 1286h38.3M1978 1286h-38.3M162 1265h38.3M1978 1265h-38.3M162 1244h38.3M1978 1244h-38.3M162 1203h38.3M1978 1203h-38.3M162 1182h38.3M1978 1182h-38.3M162 1161h38.3M1978 1161h-38.3M162 1140h38.3M1978 1140h-38.3M162 1098h38.3M1978 1098h-38.3M162 1078h38.3M1978 1078h-38.3M162 1057h38.3M1978 1057h-38.3M162 1036h38.3M1978 1036h-38.3M162 1745h74.6M1978 1745h-74.6M162 1641h74.6M1978 1641h-74.6M162 1536h74.6M1978 1536h-74.6M162 1432h74.6M1978 1432h-74.6M162 1328h74.6M1978 1328h-74.6M162 1224h74.6M1978 1224h-74.6M162 1119h74.6M1978 1119h-74.6M162 1015h74.6M1978 1015h-74.6" stroke="#262626" stroke-width="4" fill="none"/>
<rect x="162" y="1015" width="1816" height="730" fill="none" stroke="#262626" stroke-width="4"/>
<path d="M162 1087.58L229.47 1316.39L239.85 1316.39L250.23 1316.39L260.6 1316.39L270.98 1316.39L281.36 1316.39L291.74 1316.39L302.12 1316.39L312.5 1316.39L322.88 1316.39L333.26 1316.39L343.64 1316.39L354.02 1316.39L364.4 1316.39L374.78 1316.39L385.16 1316.39L395.54 1316.39L405.92 1316.39L416.3 1316.39L426.68 1316.39L437.05 1316.39L447.43 1316.39L457.81 1316.39L468.19 1316.39L478.57 1316.39L488.95 1316.39L499.33 1316.39L509.71 1316.39L520.09 1316.39L530.47 1713.71L540.85 1316.39L551.23 1316.39L561.61 1316.39L571.99 1316.39L582.37 1316.39L592.75 1316.39L603.13 1316.39L613.51 1316.39L623.88 1316.39L634.26 1316.39L644.64 1316.39L655.02 1316.39L665.4 1316.39L675.78 1316.39L686.16 1316.39L696.54 1316.39L706.92 1316.39L717.3 1316.39L727.68 1316.39L738.06 1316.39L748.44 1316.39L758.82 1316.39L769.2 1316.39L779.58 1316.39L789.96 1316.39L800.33 1316.39L810.71 1316.39L821.09 1316.39L831.47 1316.39L841.85 1316.39L852.23 1316.39L862.61 1316.39L872.99 1316.39L883.37 1316.39L893.75 1316.39L904.13 1316.39L914.51 1316.39L924.89 1316.39L935.27 1316.39L945.65 1316.39L956.03 1316.39L966.41 1316.39L976.79 1316.39L987.16 1316.39L997.54 1316.39L1007.92 1316.39L1018.3 1316.39L1028.68 1316.39L1039.06 1316.39L1049.44 1316.39L1059.82 1316.39L1070.2 1316.39L1080.58 1316.39L1090.96 1316.39L1101.34 1316.39L1111.72 1316.39L1122.1 1316.39L1132.48 1316.39L1142.86 1316.39L1153.24 1316.39L1163.61 1316.39L1173.99 1316.39L1184.37 1316.39L1194.75 1316.39L1205.13 1316.39L1215.51 1316.39L1225.89 1316.39L1236.27 1316.39L1246.65 1316.39L1257.03 1316.39L1267.41 1316.39L1277.79 1316.39L1288.17 1316.39L1298.55 1316.39L1308.93 1316.39L1319.31 1316.39L1329.69 1316.39L1340.07 1316.39L1350.44 1316.39L1360.82 1316.39L1371.2 1316.39L1381.58 1316.39L1391.96 1316.39L1402.34 1316.39L1412.72 1316.39L1423.1 1316.39L1433.48 1316.39L1443.86 1316.39L1454.24 1316.39L1464.62 1316.39L1475 1316.39L1485.38 1316.39L1495.76 1316.39L1506.14 1316.39L1516.52 1316.39L1526.89 1316.39L1537.27 1316.39L1547.65 1316.39L1558.03 1316.39L1568.41 1316.39L1578.79 1316.39L1589.17 1316.39L1599.55 1316.39L1609.93 1713.71L1620.31 1316.39L1630.69 1316.39L1641.07 1316.39L1651.45 1316.39L1661.83 1316.39L1672.21 1316.39L1682.59 1316.39L1692.97 1316.39L1703.35 1316.39L1713.72 1316.39L1724.1 1316.39L1734.48 1316.39L1744.86 1316.39L1755.24 1316.39L1765.62 1316.39L1776 1316.39L1786.38 1316.39L1796.76 1316.39L1807.14 1316.39L1817.52 1316.39L1827.9 1316.39L1838.28 1316.39L1848.66 1316.39L1859.04 1316.39L1869.42 1316.39L1879.8 1316.39L1890.17 1316.39L1900.55 1316.39L1910.93 1316.39L1978.4 1087.58" fill="none" stroke="#000" stroke-width="4.2" stroke-linejoin="round" clip-path="url(#cb)"/>
<g><use href="#c" x="162" y="1087.58"/><use href="#c" x="229.47" y="1316.39"/><use href="#c" x="239.85" y="1316.39"/><use href="#c" x="250.23" y="1316.39"/><use href="#c" x="260.6" y="1316.39"/><use href="#c" x="270.98" y="1316.39"/><use href="#c" x="281.36" y="1316.39"/><use href="#c" x="291.74" y="1316.39"/><use href="#c" x="302.12" y="1316.39"/><use href="#c" x="312.5" y="1316.39"/><use href="#c" x="322.88" y="1316.39"/><use href="#c" x="333.26" y="1316.39"/><use href="#c" x="343.64" y="1316.39"/><use href="#c" x="354.02" y="1316.39"/><use href="#c" x="364.4" y="1316.39"/><use href="#c" x="374.78" y="1316.39"/><use href="#c" x="385.16" y="1316.39"/><use href="#c" x="395.54" y="1316.39"/><use href="#c" x="405.92" y="1316.39"/><use href="#c" x="416.3" y="1316.39"/><use href="#c" x="426.68" y="1316.39"/><use href="#c" x="437.05" y="1316.39"/><use href="#c" x="447.43" y="1316.39"/><use href="#c" x="457.81" y="1316.39"/><use href="#c" x="468.19" y="1316.39"/><use href="#c" x="478.57" y="1316.39"/><use href="#c" x="488.95" y="1316.39"/><use href="#c" x="499.33" y="1316.39"/><use href="#c" x="509.71" y="1316.39"/><use href="#c" x="520.09" y="1316.39"/><use href="#c" x="530.47" y="1713.71"/><use href="#c" x="540.85" y="1316.39"/><use href="#c" x="551.23" y="1316.39"/><use href="#c" x="561.61" y="1316.39"/><use href="#c" x="571.99" y="1316.39"/><use href="#c" x="582.37" y="1316.39"/><use href="#c" x="592.75" y="1316.39"/><use href="#c" x="603.13" y="1316.39"/><use href="#c" x="613.51" y="1316.39"/><use href="#c" x="623.88" y="1316.39"/><use href="#c" x="634.26" y="1316.39"/><use href="#c" x="644.64" y="1316.39"/><use href="#c" x="655.02" y="1316.39"/><use href="#c" x="665.4" y="1316.39"/><use href="#c" x="675.78" y="1316.39"/><use href="#c" x="686.16" y="1316.39"/><use href="#c" x="696.54" y="1316.39"/><use href="#c" x="706.92" y="1316.39"/><use href="#c" x="717.3" y="1316.39"/><use href="#c" x="727.68" y="1316.39"/><use href="#c" x="738.06" y="1316.39"/><use href="#c" x="748.44" y="1316.39"/><use href="#c" x="758.82" y="1316.39"/><use href="#c" x="769.2" y="1316.39"/><use href="#c" x="779.58" y="1316.39"/><use href="#c" x="789.96" y="1316.39"/><use href="#c" x="800.33" y="1316.39"/><use href="#c" x="810.71" y="1316.39"/><use href="#c" x="821.09" y="1316.39"/><use href="#c" x="831.47" y="1316.39"/><use href="#c" x="841.85" y="1316.39"/><use href="#c" x="852.23" y="1316.39"/><use href="#c" x="862.61" y="1316.39"/><use href="#c" x="872.99" y="1316.39"/><use href="#c" x="883.37" y="1316.39"/><use href="#c" x="893.75" y="1316.39"/><use href="#c" x="904.13" y="1316.39"/><use href="#c" x="914.51" y="1316.39"/><use href="#c" x="924.89" y="1316.39"/><use href="#c" x="935.27" y="1316.39"/><use href="#c" x="945.65" y="1316.39"/><use href="#c" x="956.03" y="1316.39"/><use href="#c" x="966.41" y="1316.39"/><use href="#c" x="976.79" y="1316.39"/><use href="#c" x="987.16" y="1316.39"/><use href="#c" x="997.54" y="1316.39"/><use href="#c" x="1007.92" y="1316.39"/><use href="#c" x="1018.3" y="1316.39"/><use href="#c" x="1028.68" y="1316.39"/><use href="#c" x="1039.06" y="1316.39"/><use href="#c" x="1049.44" y="1316.39"/><use href="#c" x="1059.82" y="1316.39"/><use href="#c" x="1070.2" y="1316.39"/><use href="#c" x="1080.58" y="1316.39"/><use href="#c" x="1090.96" y="1316.39"/><use href="#c" x="1101.34" y="1316.39"/><use href="#c" x="1111.72" y="1316.39"/><use href="#c" x="1122.1" y="1316.39"/><use href="#c" x="1132.48" y="1316.39"/><use href="#c" x="1142.86" y="1316.39"/><use href="#c" x="1153.24" y="1316.39"/><use href="#c" x="1163.61" y="1316.39"/><use href="#c" x="1173.99" y="1316.39"/><use href="#c" x="1184.37" y="1316.39"/><use href="#c" x="1194.75" y="1316.39"/><use href="#c" x="1205.13" y="1316.39"/><use href="#c" x="1215.51" y="1316.39"/><use href="#c" x="1225.89" y="1316.39"/><use href="#c" x="1236.27" y="1316.39"/><use href="#c" x="1246.65" y="1316.39"/><use href="#c" x="1257.03" y="1316.39"/><use href="#c" x="1267.41" y="1316.39"/><use href="#c" x="1277.79" y="1316.39"/><use href="#c" x="1288.17" y="1316.39"/><use href="#c" x="1298.55" y="1316.39"/><use href="#c" x="1308.93" y="1316.39"/><use href="#c" x="1319.31" y="1316.39"/><use href="#c" x="1329.69" y="1316.39"/><use href="#c" x="1340.07" y="1316.39"/><use href="#c" x="1350.44" y="1316.39"/><use href="#c" x="1360.82" y="1316.39"/><use href="#c" x="1371.2" y="1316.39"/><use href="#c" x="1381.58" y="1316.39"/><use href="#c" x="1391.96" y="1316.39"/><use href="#c" x="1402.34" y="1316.39"/><use href="#c" x="1412.72" y="1316.39"/><use href="#c" x="1423.1" y="1316.39"/><use href="#c" x="1433.48" y="1316.39"/><use href="#c" x="1443.86" y="1316.39"/><use href="#c" x="1454.24" y="1316.39"/><use href="#c" x="1464.62" y="1316.39"/><use href="#c" x="1475" y="1316.39"/><use href="#c" x="1485.38" y="1316.39"/><use href="#c" x="1495.76" y="1316.39"/><use href="#c" x="1506.14" y="1316.39"/><use href="#c" x="1516.52" y="1316.39"/><use href="#c" x="1526.89" y="1316.39"/><use href="#c" x="1537.27" y="1316.39"/><use href="#c" x="1547.65" y="1316.39"/><use href="#c" x="1558.03" y="1316.39"/><use href="#c" x="1568.41" y="1316.39"/><use href="#c" x="1578.79" y="1316.39"/><use href="#c" x="1589.17" y="1316.39"/><use href="#c" x="1599.55" y="1316.39"/><use href="#c" x="1609.93" y="1713.71"/><use href="#c" x="1620.31" y="1316.39"/><use href="#c" x="1630.69" y="1316.39"/><use href="#c" x="1641.07" y="1316.39"/><use href="#c" x="1651.45" y="1316.39"/><use href="#c" x="1661.83" y="1316.39"/><use href="#c" x="1672.21" y="1316.39"/><use href="#c" x="1682.59" y="1316.39"/><use href="#c" x="1692.97" y="1316.39"/><use href="#c" x="1703.35" y="1316.39"/><use href="#c" x="1713.72" y="1316.39"/><use href="#c" x="1724.1" y="1316.39"/><use href="#c" x="1734.48" y="1316.39"/><use href="#c" x="1744.86" y="1316.39"/><use href="#c" x="1755.24" y="1316.39"/><use href="#c" x="1765.62" y="1316.39"/><use href="#c" x="1776" y="1316.39"/><use href="#c" x="1786.38" y="1316.39"/><use href="#c" x="1796.76" y="1316.39"/><use href="#c" x="1807.14" y="1316.39"/><use href="#c" x="1817.52" y="1316.39"/><use href="#c" x="1827.9" y="1316.39"/><use href="#c" x="1838.28" y="1316.39"/><use href="#c" x="1848.66" y="1316.39"/><use href="#c" x="1859.04" y="1316.39"/><use href="#c" x="1869.42" y="1316.39"/><use href="#c" x="1879.8" y="1316.39"/><use href="#c" x="1890.17" y="1316.39"/><use href="#c" x="1900.55" y="1316.39"/><use href="#c" x="1910.93" y="1316.39"/><use href="#c" x="1978.4" y="1087.58"/></g>
<path d="M162 1087.58L229.47 1216.21L239.85 1232.84L250.23 1249.37L260.6 1265.82L270.98 1282.2L281.36 1298.52L291.74 1314.81L302.12 1331.07L312.5 1347.33L322.88 1363.59L333.26 1379.87L343.64 1396.19L354.02 1412.56L364.4 1429L374.78 1445.53L385.16 1462.15L395.54 1478.88L405.92 1495.74L416.3 1512.74L426.68 1529.89L437.05 1547.23L447.43 1564.74L457.81 1582.46L468.19 1600.4L478.57 1618.57L488.95 1636.99L499.33 1655.67L509.71 1674.63L520.09 1693.88L530.47 1713.32L540.85 1702.13L551.23 1691.08L561.61 1680.15L571.99 1669.38L582.37 1658.74L592.75 1648.26L603.13 1637.93L613.51 1627.76L623.88 1617.76L634.26 1607.92L644.64 1598.26L655.02 1588.77L665.4 1579.47L675.78 1570.35L686.16 1561.42L696.54 1552.68L706.92 1544.14L717.3 1535.79L727.68 1527.66L738.06 1519.73L748.44 1512L758.82 1504.5L769.2 1497.21L779.58 1490.13L789.96 1483.28L800.33 1476.66L810.71 1470.26L821.09 1464.1L831.47 1458.16L841.85 1452.46L852.23 1447L862.61 1441.78L872.99 1436.8L883.37 1432.06L893.75 1427.57L904.13 1423.33L914.51 1419.33L924.89 1415.59L935.27 1412.1L945.65 1408.86L956.03 1405.87L966.41 1403.14L976.79 1400.67L987.16 1398.45L997.54 1396.5L1007.92 1394.8L1018.3 1393.36L1028.68 1392.19L1039.06 1391.27L1049.44 1390.62L1059.82 1390.23L1070.2 1390.09L1080.58 1390.23L1090.96 1390.62L1101.34 1391.27L1111.72 1392.19L1122.1 1393.36L1132.48 1394.8L1142.86 1396.5L1153.24 1398.45L1163.61 1400.67L1173.99 1403.14L1184.37 1405.87L1194.75 1408.86L1205.13 1412.1L1215.51 1415.59L1225.89 1419.33L1236.27 1423.33L1246.65 1427.57L1257.03 1432.06L1267.41 1436.8L1277.79 1441.78L1288.17 1447L1298.55 1452.46L1308.93 1458.16L1319.31 1464.1L1329.69 1470.26L1340.07 1476.66L1350.44 1483.28L1360.82 1490.13L1371.2 1497.21L1381.58 1504.5L1391.96 1512L1402.34 1519.73L1412.72 1527.66L1423.1 1535.79L1433.48 1544.14L1443.86 1552.68L1454.24 1561.42L1464.62 1570.35L1475 1579.47L1485.38 1588.77L1495.76 1598.26L1506.14 1607.92L1516.52 1617.76L1526.89 1627.76L1537.27 1637.93L1547.65 1648.26L1558.03 1658.74L1568.41 1669.38L1578.79 1680.15L1589.17 1691.08L1599.55 1702.13L1609.93 1713.32L1620.31 1693.88L1630.69 1674.63L1641.07 1655.67L1651.45 1636.99L1661.83 1618.57L1672.21 1600.4L1682.59 1582.46L1692.97 1564.74L1703.35 1547.23L1713.72 1529.89L1724.1 1512.74L1734.48 1495.74L1744.86 1478.88L1755.24 1462.15L1765.62 1445.53L1776 1429L1786.38 1412.56L1796.76 1396.19L1807.14 1379.87L1817.52 1363.59L1827.9 1347.33L1838.28 1331.07L1848.66 1314.81L1859.04 1298.52L1869.42 1282.2L1879.8 1265.82L1890.17 1249.37L1900.55 1232.84L1910.93 1216.21L1978.4 1087.58" fill="none" stroke="#000" stroke-width="4.2" stroke-linejoin="round" clip-path="url(#cb)"/>
<g><use href="#tb" x="162" y="1087.58"/><use href="#tb" x="229.47" y="1216.21"/><use href="#tb" x="239.85" y="1232.84"/><use href="#tb" x="250.23" y="1249.37"/><use href="#tb" x="260.6" y="1265.82"/><use href="#tb" x="270.98" y="1282.2"/><use href="#tb" x="281.36" y="1298.52"/><use href="#tb" x="291.74" y="1314.81"/><use href="#tb" x="302.12" y="1331.07"/><use href="#tb" x="312.5" y="1347.33"/><use href="#tb" x="322.88" y="1363.59"/><use href="#tb" x="333.26" y="1379.87"/><use href="#tb" x="343.64" y="1396.19"/><use href="#tb" x="354.02" y="1412.56"/><use href="#tb" x="364.4" y="1429"/><use href="#tb" x="374.78" y="1445.53"/><use href="#tb" x="385.16" y="1462.15"/><use href="#tb" x="395.54" y="1478.88"/><use href="#tb" x="405.92" y="1495.74"/><use href="#tb" x="416.3" y="1512.74"/><use href="#tb" x="426.68" y="1529.89"/><use href="#tb" x="437.05" y="1547.23"/><use href="#tb" x="447.43" y="1564.74"/><use href="#tb" x="457.81" y="1582.46"/><use href="#tb" x="468.19" y="1600.4"/><use href="#tb" x="478.57" y="1618.57"/><use href="#tb" x="488.95" y="1636.99"/><use href="#tb" x="499.33" y="1655.67"/><use href="#tb" x="509.71" y="1674.63"/><use href="#tb" x="520.09" y="1693.88"/><use href="#tb" x="530.47" y="1713.32"/><use href="#tb" x="540.85" y="1702.13"/><use href="#tb" x="551.23" y="1691.08"/><use href="#tb" x="561.61" y="1680.15"/><use href="#tb" x="571.99" y="1669.38"/><use href="#tb" x="582.37" y="1658.74"/><use href="#tb" x="592.75" y="1648.26"/><use href="#tb" x="603.13" y="1637.93"/><use href="#tb" x="613.51" y="1627.76"/><use href="#tb" x="623.88" y="1617.76"/><use href="#tb" x="634.26" y="1607.92"/><use href="#tb" x="644.64" y="1598.26"/><use href="#tb" x="655.02" y="1588.77"/><use href="#tb" x="665.4" y="1579.47"/><use href="#tb" x="675.78" y="1570.35"/><use href="#tb" x="686.16" y="1561.42"/><use href="#tb" x="696.54" y="1552.68"/><use href="#tb" x="706.92" y="1544.14"/><use href="#tb" x="717.3" y="1535.79"/><use href="#tb" x="727.68" y="1527.66"/><use href="#tb" x="738.06" y="1519.73"/><use href="#tb" x="748.44" y="1512"/><use href="#tb" x="758.82" y="1504.5"/><use href="#tb" x="769.2" y="1497.21"/><use href="#tb" x="779.58" y="1490.13"/><use href="#tb" x="789.96" y="1483.28"/><use href="#tb" x="800.33" y="1476.66"/><use href="#tb" x="810.71" y="1470.26"/><use href="#tb" x="821.09" y="1464.1"/><use href="#tb" x="831.47" y="1458.16"/><use href="#tb" x="841.85" y="1452.46"/><use href="#tb" x="852.23" y="1447"/><use href="#tb" x="862.61" y="1441.78"/><use href="#tb" x="872.99" y="1436.8"/><use href="#tb" x="883.37" y="1432.06"/><use href="#tb" x="893.75" y="1427.57"/><use href="#tb" x="904.13" y="1423.33"/><use href="#tb" x="914.51" y="1419.33"/><use href="#tb" x="924.89" y="1415.59"/><use href="#tb" x="935.27" y="1412.1"/><use href="#tb" x="945.65" y="1408.86"/><use href="#tb" x="956.03" y="1405.87"/><use href="#tb" x="966.41" y="1403.14"/><use href="#tb" x="976.79" y="1400.67"/><use href="#tb" x="987.16" y="1398.45"/><use href="#tb" x="997.54" y="1396.5"/><use href="#tb" x="1007.92" y="1394.8"/><use href="#tb" x="1018.3" y="1393.36"/><use href="#tb" x="1028.68" y="1392.19"/><use href="#tb" x="1039.06" y="1391.27"/><use href="#tb" x="1049.44" y="1390.62"/><use href="#tb" x="1059.82" y="1390.23"/><use href="#tb" x="1070.2" y="1390.09"/><use href="#tb" x="1080.58" y="1390.23"/><use href="#tb" x="1090.96" y="1390.62"/><use href="#tb" x="1101.34" y="1391.27"/><use href="#tb" x="1111.72" y="1392.19"/><use href="#tb" x="1122.1" y="1393.36"/><use href="#tb" x="1132.48" y="1394.8"/><use href="#tb" x="1142.86" y="1396.5"/><use href="#tb" x="1153.24" y="1398.45"/><use href="#tb" x="1163.61" y="1400.67"/><use href="#tb" x="1173.99" y="1403.14"/><use href="#tb" x="1184.37" y="1405.87"/><use href="#tb" x="1194.75" y="1408.86"/><use href="#tb" x="1205.13" y="1412.1"/><use href="#tb" x="1215.51" y="1415.59"/><use href="#tb" x="1225.89" y="1419.33"/><use href="#tb" x="1236.27" y="1423.33"/><use href="#tb" x="1246.65" y="1427.57"/><use href="#tb" x="1257.03" y="1432.06"/><use href="#tb" x="1267.41" y="1436.8"/><use href="#tb" x="1277.79" y="1441.78"/><use href="#tb" x="1288.17" y="1447"/><use href="#tb" x="1298.55" y="1452.46"/><use href="#tb" x="1308.93" y="1458.16"/><use href="#tb" x="1319.31" y="1464.1"/><use href="#tb" x="1329.69" y="1470.26"/><use href="#tb" x="1340.07" y="1476.66"/><use href="#tb" x="1350.44" y="1483.28"/><use href="#tb" x="1360.82" y="1490.13"/><use href="#tb" x="1371.2" y="1497.21"/><use href="#tb" x="1381.58" y="1504.5"/><use href="#tb" x="1391.96" y="1512"/><use href="#tb" x="1402.34" y="1519.73"/><use href="#tb" x="1412.72" y="1527.66"/><use href="#tb" x="1423.1" y="1535.79"/><use href="#tb" x="1433.48" y="1544.14"/><use href="#tb" x="1443.86" y="1552.68"/><use href="#tb" x="1454.24" y="1561.42"/><use href="#tb" x="1464.62" y="1570.35"/><use href="#tb" x="1475" y="1579.47"/><use href="#tb" x="1485.38" y="1588.77"/><use href="#tb" x="1495.76" y="1598.26"/><use href="#tb" x="1506.14" y="1607.92"/><use href="#tb" x="1516.52" y="1617.76"/><use href="#tb" x="1526.89" y="1627.76"/><use href="#tb" x="1537.27" y="1637.93"/><use href="#tb" x="1547.65" y="1648.26"/><use href="#tb" x="1558.03" y="1658.74"/><use href="#tb" x="1568.41" y="1669.38"/><use href="#tb" x="1578.79" y="1680.15"/><use href="#tb" x="1589.17" y="1691.08"/><use href="#tb" x="1599.55" y="1702.13"/><use href="#tb" x="1609.93" y="1713.32"/><use href="#tb" x="1620.31" y="1693.88"/><use href="#tb" x="1630.69" y="1674.63"/><use href="#tb" x="1641.07" y="1655.67"/><use href="#tb" x="1651.45" y="1636.99"/><use href="#tb" x="1661.83" y="1618.57"/><use href="#tb" x="1672.21" y="1600.4"/><use href="#tb" x="1682.59" y="1582.46"/><use href="#tb" x="1692.97" y="1564.74"/><use href="#tb" x="1703.35" y="1547.23"/><use href="#tb" x="1713.72" y="1529.89"/><use href="#tb" x="1724.1" y="1512.74"/><use href="#tb" x="1734.48" y="1495.74"/><use href="#tb" x="1744.86" y="1478.88"/><use href="#tb" x="1755.24" y="1462.15"/><use href="#tb" x="1765.62" y="1445.53"/><use href="#tb" x="1776" y="1429"/><use href="#tb" x="1786.38" y="1412.56"/><use href="#tb" x="1796.76" y="1396.19"/><use href="#tb" x="1807.14" y="1379.87"/><use href="#tb" x="1817.52" y="1363.59"/><use href="#tb" x="1827.9" y="1347.33"/><use href="#tb" x="1838.28" y="1331.07"/><use href="#tb" x="1848.66" y="1314.81"/><use href="#tb" x="1859.04" y="1298.52"/><use href="#tb" x="1869.42" y="1282.2"/><use href="#tb" x="1879.8" y="1265.82"/><use href="#tb" x="1890.17" y="1249.37"/><use href="#tb" x="1900.55" y="1232.84"/><use href="#tb" x="1910.93" y="1216.21"/><use href="#tb" x="1978.4" y="1087.58"/></g>
<text transform="translate(116.16 1763) scale(1.0566 1)" font-size="50.76" fill="#262626" stroke="#262626" stroke-width="0.9" >0</text>
<text transform="translate(116.41 1658.71) scale(1.0566 1)" font-size="50.76" fill="#262626" stroke="#262626" stroke-width="0.9" >5</text>
<text transform="translate(89.34 1554.43) scale(1.0566 1)" font-size="50.76" fill="#262626" stroke="#262626" stroke-width="0.9" >10</text>
<text transform="translate(89.59 1450.14) scale(1.0566 1)" font-size="50.76" fill="#262626" stroke="#262626" stroke-width="0.9" >15</text>
<text transform="translate(89.34 1345.86) scale(1.0566 1)" font-size="50.76" fill="#262626" stroke="#262626" stroke-width="0.9" >20</text>
<text transform="translate(89.59 1241.57) scale(1.0566 1)" font-size="50.76" fill="#262626" stroke="#262626" stroke-width="0.9" >25</text>
<text transform="translate(89.34 1137.29) scale(1.0566 1)" font-size="50.76" fill="#262626" stroke="#262626" stroke-width="0.9" >30</text>
<text transform="translate(89.59 1033) scale(1.0566 1)" font-size="50.76" fill="#262626" stroke="#262626" stroke-width="0.9" >35</text>
<text transform="translate(358.7 1805.3) scale(1.0566 1)" font-size="50.76" fill="#262626" stroke="#262626" stroke-width="0.9" >-1000</text>
<text transform="translate(695.95 1805.3) scale(1.0566 1)" font-size="50.76" fill="#262626" stroke="#262626" stroke-width="0.9" >-500</text>
<text transform="translate(1056.14 1805.3) scale(1.0566 1)" font-size="50.76" fill="#262626" stroke="#262626" stroke-width="0.9" >0</text>
<text transform="translate(1352.49 1805.3) scale(1.0566 1)" font-size="50.76" fill="#262626" stroke="#262626" stroke-width="0.9" >500</text>
<text transform="translate(1662.89 1805.3) scale(1.0566 1)" font-size="50.76" fill="#262626" stroke="#262626" stroke-width="0.9" >1000</text>
<text transform="translate(1002.33 1862.2) scale(1.1007 1)" font-size="55.3" fill="#262626" stroke="#262626" stroke-width="0.2" ><tspan font-style="italic">x</tspan> <tspan font-size="62.38">(</tspan>m<tspan font-size="62.38">)</tspan></text>
<text transform="translate(61 1445.55) rotate(-90) scale(1.0908 1)" font-size="55.3" fill="#262626" stroke="#262626" stroke-width="0.2" ><tspan font-style="italic">z</tspan> <tspan font-size="62.38">(</tspan>m<tspan font-size="62.38">)</tspan></text>
<rect x="1022" y="1083" width="844.3" height="104.8" fill="#fff" stroke="#262626" stroke-width="4"/>
<path d="M1031 1111H1126" stroke="#000" stroke-width="4" fill="none"/>
<use href="#c" x="1078.4" y="1111"/>
<path d="M1031 1160H1126" stroke="#000" stroke-width="4" fill="none"/>
<use href="#tb" x="1078.4" y="1160"/>
<text transform="translate(1132.71 1126.5) scale(1.0567 1)" font-size="45.4" fill="#000" stroke="#000" stroke-width="0.9" >Initial coordinates for the cable shape</text>
<text transform="translate(1132.85 1175.6) scale(1.0646 1)" font-size="45.4" fill="#000" stroke="#000" stroke-width="0.9" >Final outer- and inner-layer iteration</text>
</g>
<text transform="translate(958.83 1960.2) scale(1.0057 1)" font-size="77.5" fill="#000" >(<tspan font-weight="bold">b</tspan>)</text>
</svg></body></html>
